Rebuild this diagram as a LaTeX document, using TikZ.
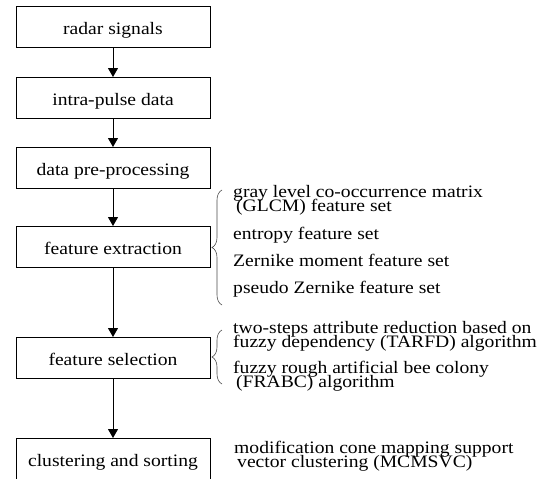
\documentclass[tikz,border=0pt]{standalone}
\usepackage{fontspec}
\setmainfont{Liberation Serif}[FakeStretch=1.12]
\usetikzlibrary{arrows.meta,decorations.pathreplacing}
\newcommand\twoln[2]{\vtop{\baselineskip=14pt\lineskiplimit=-100pt\lineskip=0pt\hbox{#1}\hbox{#2}}}
\begin{document}
\begin{tikzpicture}[x=1pt,y=-1pt,
  font=\fontsize{17.5}{14}\selectfont,
  stepbox/.style={draw,line width=0.9pt,minimum width=194pt,minimum height=41pt,
    inner sep=0pt,text height=17pt,text depth=2pt,anchor=north},
  arr/.style={line width=0.9pt,-{Triangle[length=9pt,width=10pt]}},
  brc/.style={draw=black!70,line width=0.6pt,decorate,decoration={brace,amplitude=10pt}},
  side/.style={anchor=base west,inner sep=0pt}]
\clip (0,0) rectangle (549,479);
\fill[white] (0,0) rectangle (549,479);
\node[stepbox] (b1) at (113,6) {radar signals};
\node[stepbox] (b2) at (113,77) {intra-pulse data};
\node[stepbox] (b3) at (113,147) {data pre-processing};
\node[stepbox] (b4) at (113,226) {feature extraction};
\node[stepbox] (b5) at (113,337) {feature selection};
\node[stepbox,minimum height=44pt,text depth=4pt] (b6) at (113,438) {clustering and sorting};
\draw[arr] (b1.south) -- (b2.north);
\draw[arr] (b2.south) -- (b3.north);
\draw[arr] (b3.south) -- (b4.north);
\draw[arr] (b4.south) -- (b5.north);
\draw[arr] (b5.south) -- (b6.north);
\coordinate (br1s) at (222,305);
\coordinate (br1e) at (222,190);
\coordinate (br2s) at (222,384);
\coordinate (br2e) at (222,330);
\draw[brc] (br1s) -- (br1e);
\draw[brc] (br2s) -- (br2e);
\node[side] (t1) at (233,197.2) {\twoln{gray level co-occurrence matrix}{\hspace*{3pt}(GLCM) feature set}};
\node[side] (t2) at (233,239) {entropy feature set};
\node[side] (t3) at (233,266.7) {Zernike moment feature set};
\node[side] (t4) at (233,293.3) {pseudo Zernike feature set};
\node[side] (t5) at (233,333.5) {\twoln{two-steps attribute reduction based on}{fuzzy dependency (TARFD) algorithm}};
\node[side] (t6) at (233,373.5) {\twoln{fuzzy rough artificial bee colony}{\hspace*{3pt}(FRABC) algorithm}};
\node[side] (t7) at (234,453.8) {\twoln{modification cone mapping support}{\hspace*{3pt}vector clustering (MCMSVC)}};
\end{tikzpicture}
\end{document}
